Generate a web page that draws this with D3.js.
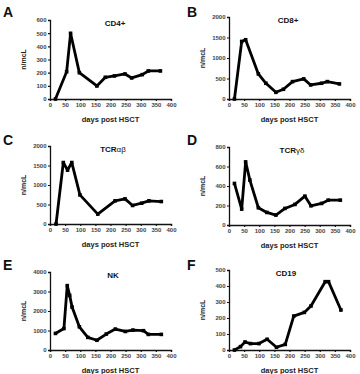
<!DOCTYPE html>
<html><head><meta charset="utf-8">
<script src="https://cdn.jsdelivr.net/npm/d3@7/dist/d3.min.js"></script>
<style>
html,body{margin:0;padding:0;background:#fff;}
svg{display:block;font-family:"Liberation Sans",Arial,sans-serif;}
</style></head>
<body><svg id="c" width="360" height="374"></svg>
<script>
// ---- data ----
const xTicks = [0, 50, 100, 150, 200, 250, 300, 350, 400];

const daysA = [18, 55, 68, 97, 155, 183, 213, 248, 270, 305, 325, 365];
const cd4   = [0, 207, 499, 200, 99, 165, 175, 190, 160, 185, 213, 213];
const ticksA = [0, 100, 200, 300, 400, 500, 600];

const daysB = [18, 42, 55, 97, 122, 155, 180, 210, 247, 270, 306, 325, 365];
const cd8   = [0, 1404, 1445, 612, 384, 163, 237, 424, 490, 343, 384, 424, 367];
const ticksB = [0, 500, 1000, 1500, 2000];

const daysC = [20, 44, 58, 72, 99, 158, 215, 248, 273, 303, 327, 368];
const tcrab = [0, 1576, 1381, 1576, 746, 254, 593, 644, 475, 534, 593, 576];
const ticksC = [0, 500, 1000, 1500, 2000];

const daysD = [18, 42, 55, 69, 97, 125, 155, 185, 218, 251, 271, 306, 328, 368];
const tcrgd = [426, 163, 647, 460, 177, 129, 102, 170, 211, 296, 197, 221, 255, 255];
const ticksD = [0, 200, 400, 600, 800];

const daysE = [18, 46, 57, 65, 73, 97, 125, 155, 186, 216, 249, 274, 309, 325, 368];
const nk    = [850, 1100, 3300, 2800, 2200, 1190, 647, 500, 817, 1072, 950, 1021, 990, 800, 800];
const ticksE = [0, 1000, 2000, 3000, 4000];

const daysF = [18, 38, 53, 71, 99, 126, 157, 186, 214, 249, 271, 318, 329, 370];
const cd19  = [0, 21, 50, 40, 40, 67, 17, 35, 212, 235, 275, 427, 427, 250];
const ticksF = [0, 100, 200, 300, 400, 500];

const panels = [
  {letter:"A", title:["CD4+",""], days:daysA, vals:cd4, ticks:ticksA, x0:50, x1:171, top:20, bot:99, lx:3, ly:17, tx:115},
  {letter:"B", title:["CD8+",""], days:daysB, vals:cd8, ticks:ticksB, x0:229, x1:350, top:17, bot:99, lx:187, ly:17, tx:288},
  {letter:"C", title:["TCR","\u03b1\u03b2"], days:daysC, vals:tcrab, ticks:ticksC, x0:50, x1:171, top:146, bot:224, lx:3, ly:145, tx:113},
  {letter:"D", title:["TCR","\u03b3\u03b4"], days:daysD, vals:tcrgd, ticks:ticksD, x0:229, x1:350, top:147, bot:225, lx:187, ly:145, tx:292},
  {letter:"E", title:["NK",""], days:daysE, vals:nk, ticks:ticksE, x0:50, x1:171, top:272, bot:350, lx:3, ly:270, tx:113},
  {letter:"F", title:["CD19",""], days:daysF, vals:cd19, ticks:ticksF, x0:229, x1:350, top:270, bot:350, lx:187, ly:270, tx:286}
];

const svg = d3.select("#c");

panels.forEach(p => {
  const x = d3.scaleLinear().domain([0, 400]).range([p.x0, p.x1]);
  const ymax = p.ticks[p.ticks.length - 1];
  const y = d3.scaleLinear().domain([0, ymax]).range([p.bot, p.top]);
  const g = svg.append("g");

  const xa = g.append("g").attr("transform", `translate(0,${p.bot})`)
    .call(d3.axisBottom(x).tickValues(xTicks).tickFormat(d3.format("d")).tickSize(2).tickPadding(1.5));
  const ya = g.append("g").attr("transform", `translate(${p.x0},0)`)
    .call(d3.axisLeft(y).tickValues(p.ticks).tickFormat(d3.format("d")).tickSize(2).tickPadding(1.5));
  [xa, ya].forEach(a => {
    a.select(".domain").attr("stroke", "#111").attr("stroke-width", 1.3);
    a.selectAll(".tick line").attr("stroke", "#111").attr("stroke-width", 1.2);
    a.selectAll(".tick text").attr("font-size", 6).attr("font-weight", "bold")
      .attr("fill", "#444").attr("font-family", "Liberation Sans, Arial, sans-serif");
  });

  const pts = p.days.map((d, i) => [d, p.vals[i]]);
  g.append("path").datum(pts)
    .attr("fill", "none").attr("stroke", "#000").attr("stroke-width", 2.8)
    .attr("stroke-linejoin", "round").attr("stroke-linecap", "round")
    .attr("d", d3.line().x(d => x(d[0])).y(d => y(d[1])));
  g.selectAll("rect.pt").data(pts).enter().append("rect")
    .attr("x", d => x(d[0]) - 1.8).attr("y", d => y(d[1]) - 1.8)
    .attr("width", 3.6).attr("height", 3.6).attr("fill", "#000");

  const t = g.append("text").attr("x", p.tx).attr("y", p.top + 6)
    .attr("text-anchor", "middle").attr("font-size", 8).attr("fill", "#111");
  t.append("tspan").attr("font-weight", "bold").text(p.title[0]);
  if (p.title[1]) t.append("tspan").attr("font-weight", "normal").attr("font-size", 8).text(p.title[1]);

  g.append("text").attr("x", (p.x0 + p.x1) / 2).attr("y", p.bot + 23)
    .attr("text-anchor", "middle").attr("font-size", 7.5).attr("font-weight", "bold")
    .attr("fill", "#222").text("days post HSCT");
  const ylx = p.x0 - 24, yly = (p.top + p.bot) / 2;
  g.append("text").attr("transform", `translate(${ylx},${yly}) rotate(-90)`)
    .attr("text-anchor", "middle").attr("font-size", 7).attr("font-weight", "bold")
    .attr("fill", "#222").text("n/mcL");

  g.append("text").attr("x", p.lx).attr("y", p.ly).attr("font-size", 14)
    .attr("font-weight", "bold").attr("fill", "#111").text(p.letter);
});
</script></body></html>
